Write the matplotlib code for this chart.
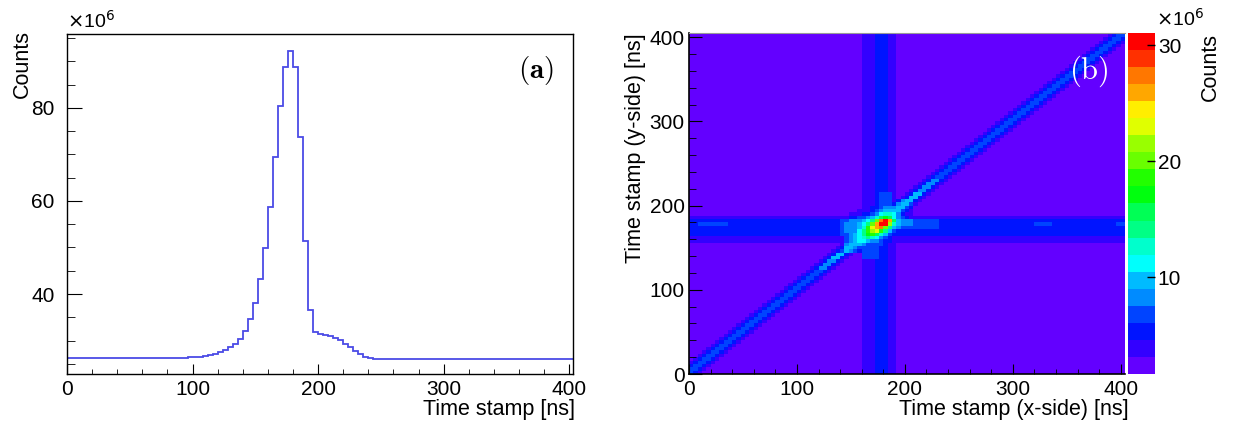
import colorsys
import numpy as np
import matplotlib
matplotlib.use("Agg")
import matplotlib.pyplot as plt
from matplotlib.colors import ListedColormap, BoundaryNorm
from matplotlib.ticker import MultipleLocator

plt.rcParams['font.family'] = ['Liberation Sans', 'DejaVu Sans']

# ---- panel (a): 1D time stamp histogram, 4 ns bins, counts in 1e6 ----
bin_width = 4
hist_counts = [
    26.15, 26.15, 26.15, 26.15, 26.15, 26.15, 26.15, 26.15, 26.15, 26.15,
    26.15, 26.15, 26.15, 26.15, 26.15, 26.15, 26.15, 26.17, 26.18, 26.2,
    26.2, 26.22, 26.25, 26.3, 26.35, 26.4, 26.5, 26.6, 26.8, 27.1,
    27.5, 27.9, 28.5, 29.3, 30.4, 32.1, 34.6, 38.1, 43.2, 49.9,
    58.8, 69.4, 80.5, 88.9, 92.3, 88.7, 73.8, 51.4, 36.5, 31.8,
    31.3, 31.1, 30.9, 30.6, 30.1, 29.3, 28.6, 27.8, 27.1, 26.5,
    26.2, 26.05, 26.0, 25.98, 25.97, 25.96, 25.96, 25.96, 25.96, 25.96,
    25.97, 25.98, 26.0, 26.02, 26.03, 26.04, 26.05, 26.05, 26.04, 26.03,
    26.02, 26.0, 26.0, 25.99, 25.98, 25.97, 25.97, 25.96, 25.96, 25.96,
    25.96, 25.96, 25.96, 25.96, 25.96, 25.96, 25.96, 25.97, 25.97, 25.97,
    25.97,
]

# ---- panel (b): 2D x-side vs y-side time stamps, counts in 1e6 ----
n_bins = 101
cbar_min, cbar_max, n_levels = 1.64, 31.04, 20
# hues of the 20 contour colours (violet -> red), lightness 0.5, saturation 1
level_hues = [263.2, 252.0, 235.2, 224.0, 207.2, 196.0, 179.2, 168.0, 151.2, 140.0,
              123.2, 112.0, 95.2, 84.0, 67.2, 56.0, 39.2, 28.0, 11.2, 0.0]

background_level = 2.3
stripe_x_bins = [39, 40, 41, 42, 43, 44, 45, 46, 47]
stripe_x_add = [0.5, 1.5, 1.6, 1.9, 3.0, 3.2, 3.0, 1.6, 1.2]
stripe_y_bins = [39, 40, 41, 42, 43, 44, 45, 46]
stripe_y_add = [1.2, 1.5, 2.6, 3.0, 3.1, 3.3, 3.0, 1.5]
# diagonal band, offset = x bin - y bin
diag_offsets = [-3, -2, -1, 0, 1, 2]
diag_add = [1.4, 3.0, 4.6, 4.6, 3.0, 1.4]

# colour level of the central spot, x bins 36..51, rows from y bin 51 down to 36
core_x0, core_y0 = 36, 36
core_levels = [
    [0, 0, 0, 0, 1, 1, 1, 2, 3, 3, 3, 1, 2, 4, 5, 5],
    [0, 0, 0, 0, 1, 1, 1, 2, 3, 3, 3, 2, 4, 5, 5, 3],
    [0, 0, 0, 0, 1, 1, 2, 2, 3, 4, 4, 4, 5, 5, 3, 2],
    [0, 0, 0, 1, 1, 1, 2, 3, 4, 5, 5, 5, 5, 3, 2, 1],
    [0, 1, 1, 1, 2, 2, 3, 4, 6, 7, 7, 6, 4, 2, 1, 1],
    [1, 2, 2, 3, 3, 4, 5, 7, 9, 10, 9, 6, 4, 3, 2, 1],
    [3, 4, 4, 4, 5, 6, 8, 12, 17, 19, 16, 9, 5, 4, 4, 4],
    [4, 4, 4, 5, 6, 8, 12, 16, 19, 19, 13, 7, 5, 4, 4, 4],
    [4, 4, 4, 5, 7, 11, 14, 16, 17, 12, 8, 5, 4, 3, 3, 3],
    [4, 4, 4, 6, 8, 11, 13, 14, 11, 8, 5, 3, 2, 2, 2, 2],
    [3, 4, 5, 6, 8, 10, 11, 9, 7, 5, 3, 2, 2, 2, 2, 2],
    [3, 4, 5, 6, 7, 8, 7, 6, 4, 3, 2, 1, 1, 1, 1, 1],
    [3, 4, 5, 6, 6, 5, 4, 4, 3, 2, 2, 1, 1, 1, 1, 1],
    [4, 5, 5, 5, 4, 3, 3, 3, 3, 2, 1, 1, 0, 0, 0, 0],
    [5, 5, 4, 3, 3, 3, 3, 3, 2, 2, 1, 1, 0, 0, 0, 0],
    [5, 4, 3, 2, 3, 3, 3, 3, 2, 2, 1, 1, 0, 0, 0, 0],
]
# small patches (x bin from, x bin to, y bin from, y bin to, colour level)
patches = [
    (52, 57, 43, 45, 3),
    (44, 46, 52, 53, 3),
    (35, 35, 41, 45, 3),
    (40, 43, 34, 35, 3),
    (2, 8, 44, 44, 3),
    (80, 83, 44, 44, 3),
    (99, 100, 44, 44, 3),
]
# brighter cells along the diagonal close to the spot (y bin, colour level)
diag_bright = [(31, 4), (32, 4), (33, 4), (34, 5), (35, 5),
               (52, 5), (53, 5), (54, 4), (55, 4), (56, 4), (57, 4)]


def level_value(level):
    step = (cbar_max - cbar_min) / n_levels
    return cbar_min + (level + 0.5) * step


def build_map():
    z = np.full((n_bins, n_bins), background_level)
    for k, a in zip(stripe_x_bins, stripe_x_add):
        z[:, k] += a
    for k, a in zip(stripe_y_bins, stripe_y_add):
        z[k, :] += a
    for d, a in zip(diag_offsets, diag_add):
        for ky in range(n_bins):
            kx = ky + d
            if 0 <= kx < n_bins:
                z[ky, kx] += a
    for x0, x1, y0, y1, lev in patches:
        z[y0:y1 + 1, x0:x1 + 1] = level_value(lev)
    for k, lev in diag_bright:
        z[k, k] = level_value(lev)
        z[k, k - 1] = level_value(lev)
    rows = len(core_levels)
    for r, row in enumerate(core_levels):
        ky = core_y0 + rows - 1 - r
        for c, lev in enumerate(row):
            z[ky, core_x0 + c] = level_value(lev)
    return z


def style_axis(ax, xlen, ylen):
    ax.tick_params(which='both', direction='in', top=False, right=False,
                   labelsize=15, colors='black')
    ax.tick_params(axis='x', which='major', length=xlen, pad=4)
    ax.tick_params(axis='x', which='minor', length=xlen / 2)
    ax.tick_params(axis='y', which='major', length=ylen)
    ax.tick_params(axis='y', which='minor', length=ylen / 2)


fig = plt.figure(figsize=(12.37, 4.21), dpi=100)
W, H = 1237.0, 421.0

# ---- (a) ----
ax1 = fig.add_axes([67 / W, 47 / H, 506 / W, 340 / H])
edges = np.arange(0, bin_width * (len(hist_counts) + 1), bin_width)
ax1.stairs(hist_counts, edges, color='#4b4be6', linewidth=1.3)
ax1.set_xlim(0, 403)
ax1.set_ylim(22.8, 95.9)
ax1.xaxis.set_major_locator(MultipleLocator(100))
ax1.xaxis.set_minor_locator(MultipleLocator(20))
ax1.yaxis.set_major_locator(MultipleLocator(20))
ax1.yaxis.set_minor_locator(MultipleLocator(5))
style_axis(ax1, 7.5, 11)
ax1.tick_params(axis='y', which='major', pad=9)
for s in ax1.spines.values():
    s.set_linewidth(1.0)
ax1.text(0.962, 0.94, r'$\mathbf{(a)}$', transform=ax1.transAxes, ha='right', va='top',
         fontsize=21, math_fontfamily='cm')
fig.text(67 / W, 1 - 28 / H, r'$\times$10$^{6}$', fontsize=14, ha='left', va='baseline')
fig.text(22 / W, 1 - 30 / H, 'Counts', rotation=90, fontsize=15.5, ha='center', va='top')
fig.text(575 / W, 1 - 409 / H, 'Time stamp [ns]', fontsize=15.5, ha='right', va='center')

# ---- (b) ----
colors = [colorsys.hls_to_rgb(h / 360.0, 0.5, 1.0) for h in level_hues]
cmap = ListedColormap(colors)
bounds = np.linspace(cbar_min, cbar_max, n_levels + 1)
norm = BoundaryNorm(bounds, cmap.N, clip=True)

ax2 = fig.add_axes([689 / W, 47 / H, 436 / W, 341 / H])
z = build_map()
mesh = ax2.pcolormesh(edges, edges, z, cmap=cmap, norm=norm, shading='flat')
ax2.set_xlim(0, 404)
ax2.set_ylim(0, 405)
ax2.xaxis.set_major_locator(MultipleLocator(100))
ax2.xaxis.set_minor_locator(MultipleLocator(20))
ax2.yaxis.set_major_locator(MultipleLocator(100))
ax2.yaxis.set_minor_locator(MultipleLocator(20))
style_axis(ax2, 7.5, 9.5)
ax2.tick_params(axis='y', which='major', pad=3)
ax2.spines['top'].set_color('#999999')
ax2.spines['right'].set_visible(False)
ax2.spines['left'].set_linewidth(1.2)
ax2.spines['bottom'].set_linewidth(1.2)
ax2.text(0.962, 0.94, r'$\mathrm{(b)}$', transform=ax2.transAxes, ha='right', va='top',
         fontsize=22, color='white', math_fontfamily='cm')
fig.text(636 / W, 1 - 33 / H, 'Time stamp (y-side) [ns]', rotation=90, fontsize=15.5,
         ha='center', va='top')
fig.text(1129 / W, 1 - 409 / H, 'Time stamp (x-side) [ns]', fontsize=15.5, ha='right', va='center')

cax = fig.add_axes([1128 / W, 47 / H, 27 / W, 341 / H])
cb = fig.colorbar(mesh, cax=cax, ticks=[10, 20, 30])
cb.outline.set_visible(False)
cax.tick_params(direction='in', length=6, width=1, labelsize=15, pad=2, colors='black')
cax.minorticks_off()
fig.text(1156 / W, 1 - 26 / H, r'$\times$10$^{6}$', fontsize=14, ha='left', va='baseline')
fig.text(1210 / W, 1 - 33 / H, 'Counts', rotation=90, fontsize=15.5, ha='center', va='top')

fig.savefig('out.png', dpi=100)
